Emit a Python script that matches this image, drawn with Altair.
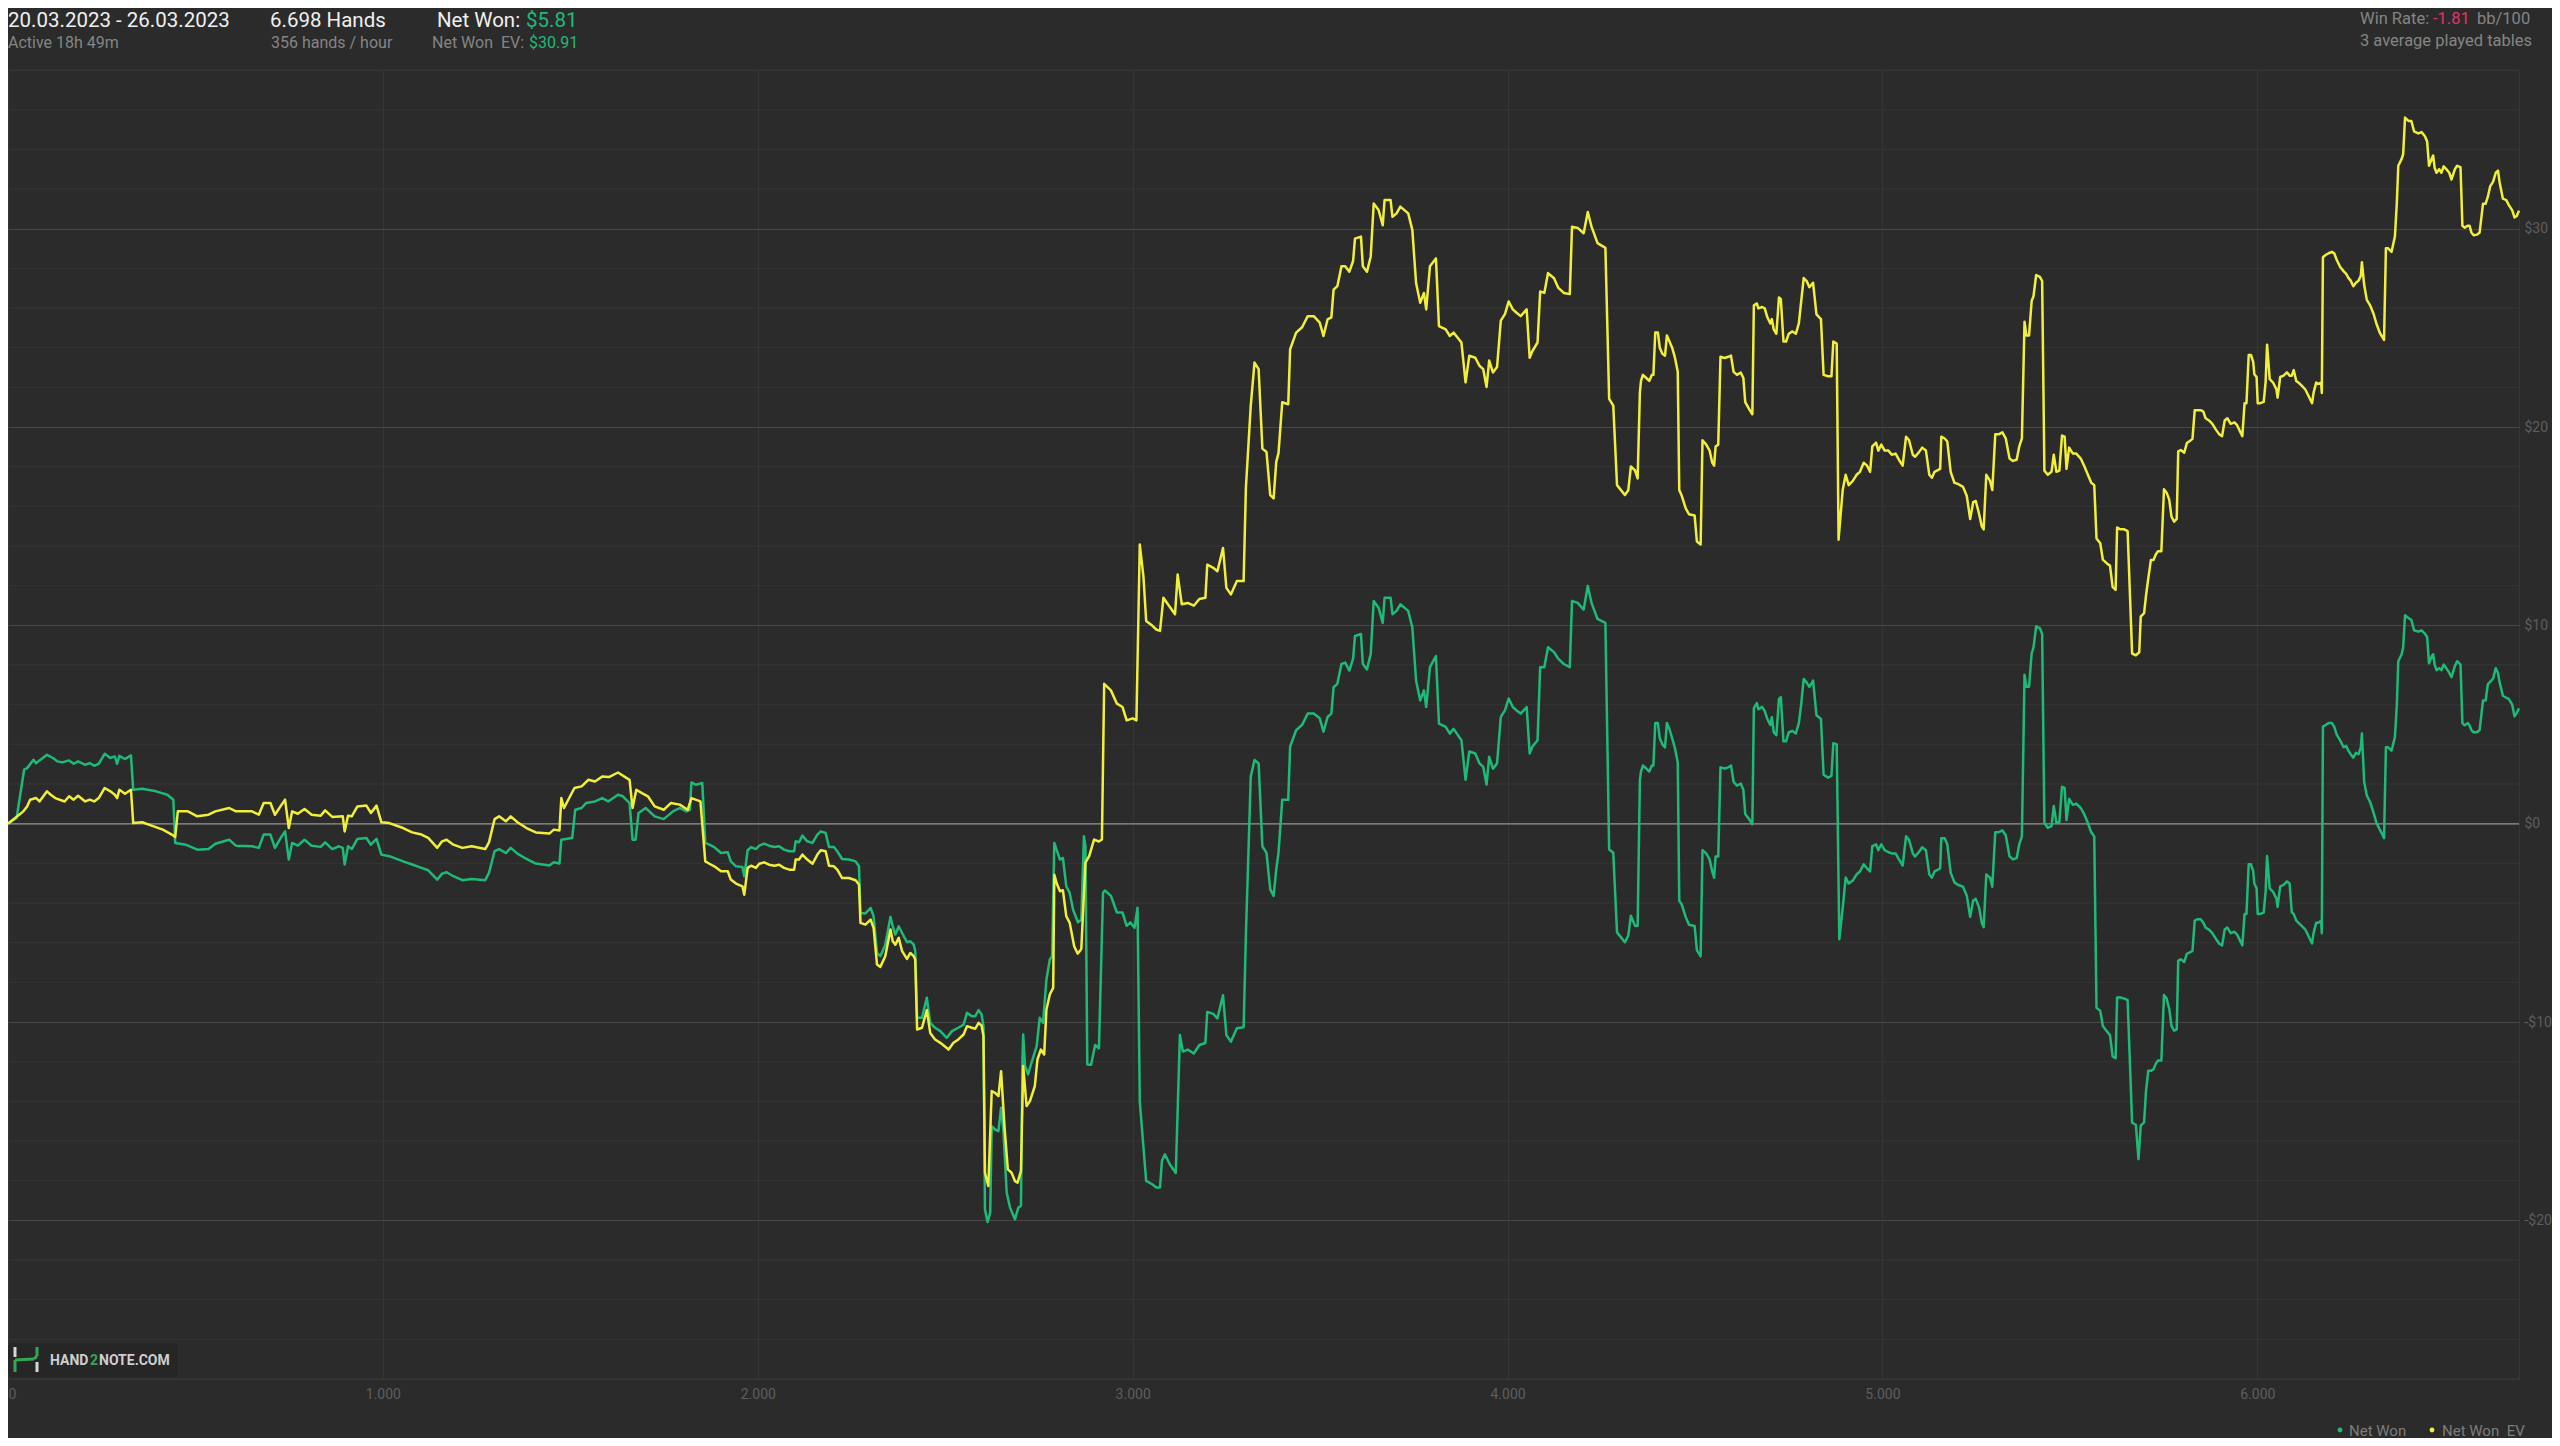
import altair as alt
import pandas as pd

# ---------------- data (hand number, cumulative $) ----------------
NET_WON = [
    (0, 0.0), (23, 0.29), (43, 2.72), (51, 2.80), (68, 3.22), (75, 3.05), (84, 3.19), (104, 3.47), (120, 3.31),
    (132, 3.14), (145, 3.09), (163, 3.19), (175, 3.02), (187, 3.14), (206, 2.97), (218, 3.05), (230, 2.92),
    (242, 3.02), (258, 3.52), (273, 3.31), (285, 3.39), (291, 3.02), (297, 3.42), (312, 3.26), (328, 3.44),
    (334, 1.71), (358, 1.76), (395, 1.63), (425, 1.46), (441, 1.21), (446, -0.97), (474, -1.06), (505, -1.31),
    (535, -1.28), (553, -1.01), (590, -0.81), (608, -1.11), (651, -1.14), (669, -1.22), (682, -0.55), (700, -0.55),
    (712, -1.22), (730, -0.64), (739, -0.39), (749, -1.81), (758, -0.97), (773, -1.11), (791, -0.81), (810, -1.11),
    (834, -1.17), (846, -0.94), (865, -1.28), (883, -1.14), (893, -1.22), (898, -2.06), (907, -1.14), (917, -1.28),
    (932, -0.77), (956, -0.72), (968, -1.06), (983, -0.77), (996, -1.56), (1017, -1.64), (1054, -1.90),
    (1078, -2.06), (1103, -2.23), (1121, -2.35), (1145, -2.82), (1158, -2.52), (1170, -2.45), (1188, -2.65),
    (1212, -2.85), (1237, -2.79), (1273, -2.85), (1283, -2.48), (1298, -1.39), (1310, -1.28), (1328, -1.48),
    (1341, -1.22), (1359, -1.51), (1383, -1.78), (1408, -2.01), (1444, -2.11), (1456, -1.95), (1471, -2.01),
    (1476, -0.81), (1505, -0.72), (1513, 0.70), (1530, 0.79), (1542, 1.04), (1566, 1.12), (1585, 1.29),
    (1601, 1.12), (1627, 1.46), (1640, 1.38), (1658, 1.04), (1666, -0.81), (1674, -0.81), (1682, 0.54),
    (1701, 0.79), (1725, 0.37), (1749, 0.23), (1774, 0.62), (1792, 0.79), (1810, 0.62), (1819, 0.70),
    (1823, 2.08), (1835, 1.96), (1852, 2.05), (1860, -0.97), (1871, -1.06), (1884, -1.18), (1902, -1.48),
    (1920, -1.44), (1928, -1.90), (1942, -2.15), (1959, -2.18), (1964, -2.65), (1973, -1.34), (1982, -1.18),
    (1995, -1.28), (2004, -1.11), (2017, -1.01), (2030, -1.11), (2044, -1.18), (2057, -1.14), (2070, -1.31),
    (2084, -1.39), (2097, -1.39), (2101, -0.89), (2110, -0.94), (2119, -0.60), (2132, -0.89), (2146, -0.97),
    (2159, -0.55), (2168, -0.39), (2181, -0.47), (2190, -1.18), (2203, -1.18), (2212, -1.39), (2225, -1.78),
    (2243, -1.81), (2261, -1.90), (2270, -2.15), (2274, -4.50), (2287, -4.53), (2301, -4.25), (2309, -4.67),
    (2318, -6.52), (2327, -6.68), (2340, -6.10), (2354, -4.70), (2360, -5.17), (2367, -5.59), (2376, -5.17),
    (2385, -5.51), (2398, -5.98), (2407, -5.93), (2416, -6.10), (2420, -6.43), (2425, -9.79), (2438, -9.79),
    (2451, -8.78), (2460, -10.04), (2473, -10.29), (2487, -10.46), (2504, -10.80), (2518, -10.46),
    (2535, -10.29), (2549, -10.13), (2558, -9.54), (2571, -9.71), (2580, -9.71), (2589, -9.40), (2597, -9.62),
    (2602, -10.21), (2606, -19.45), (2613, -20.08), (2620, -19.61), (2624, -15.25), (2633, -15.42),
    (2642, -15.50), (2649, -14.32), (2655, -15.42), (2664, -18.61), (2673, -19.36), (2686, -19.95),
    (2695, -19.36), (2702, -19.28), (2706, -11.89), (2708, -10.63), (2713, -12.22), (2721, -12.64),
    (2730, -12.06), (2744, -11.22), (2752, -9.79), (2761, -10.04), (2770, -7.86), (2779, -6.85), (2785, -6.68),
    (2791, -0.97), (2797, -1.31), (2806, -1.81), (2814, -1.73), (2823, -3.16), (2832, -3.49), (2841, -4.33),
    (2854, -4.97), (2863, -4.84), (2870, -0.64), (2874, -1.14), (2879, -12.14), (2882, -12.16), (2889, -12.16),
    (2900, -11.16), (2910, -11.33), (2921, -3.47), (2926, -3.37), (2942, -3.64), (2958, -4.48), (2973, -4.48),
    (2984, -5.15), (2994, -4.98), (3005, -5.25), (3013, -4.24), (3019, -14.00), (3026, -15.67), (3036, -18.01),
    (3052, -18.18), (3063, -18.34), (3073, -18.34), (3078, -17.01), (3086, -16.67), (3099, -17.17),
    (3115, -17.61), (3126, -10.66), (3134, -11.49), (3147, -11.39), (3163, -11.59), (3178, -11.16),
    (3194, -11.06), (3199, -9.49), (3215, -9.59), (3226, -9.82), (3241, -8.65), (3250, -10.66), (3262, -10.99),
    (3278, -10.32), (3296, -10.26), (3302, -5.65), (3315, 2.37), (3325, 3.21), (3336, 3.04), (3346, -1.14),
    (3357, -1.47), (3367, -3.31), (3376, -3.64), (3383, -2.31), (3389, -1.47), (3399, 1.20), (3415, 1.20),
    (3420, 3.88), (3436, 4.71), (3452, 4.98), (3467, 5.55), (3483, 5.55), (3499, 5.31), (3509, 4.64),
    (3520, 5.38), (3530, 5.55), (3536, 6.88), (3546, 7.05), (3557, 8.05), (3567, 8.12), (3578, 7.72),
    (3588, 8.32), (3593, 9.46), (3609, 9.56), (3614, 8.05), (3625, 7.78), (3635, 8.55), (3643, 11.23),
    (3656, 10.89), (3667, 10.12), (3672, 11.39), (3688, 11.39), (3693, 10.56), (3704, 10.73), (3714, 11.06),
    (3735, 10.73), (3746, 9.89), (3756, 7.22), (3767, 6.21), (3777, 6.72), (3783, 5.88), (3793, 7.89),
    (3809, 8.45), (3817, 5.05), (3835, 4.88), (3846, 4.54), (3856, 4.78), (3877, 4.21), (3888, 2.21),
    (3898, 3.64), (3914, 3.54), (3925, 3.04), (3935, 2.87), (3944, 1.97), (3951, 3.37), (3961, 2.77),
    (3972, 3.04), (3982, 5.38), (3993, 5.71), (4003, 6.31), (4014, 5.88), (4024, 5.71), (4035, 5.55),
    (4051, 5.88), (4059, 3.54), (4066, 3.88), (4080, 4.21), (4087, 7.89), (4098, 7.89), (4108, 8.89),
    (4124, 8.65), (4135, 8.32), (4150, 8.05), (4166, 7.89), (4172, 11.23), (4187, 11.13), (4203, 10.79),
    (4214, 11.99), (4224, 11.13), (4240, 10.32), (4261, 10.12), (4271, -1.30), (4282, -1.47), (4292, -5.48),
    (4313, -5.98), (4322, -5.65), (4329, -4.64), (4340, -5.15), (4347, -5.15), (4353, 2.21), (4356, 2.63),
    (4361, 2.93), (4370, 2.78), (4378, 2.63), (4385, 2.93), (4389, 2.93), (4394, 5.07), (4401, 5.07),
    (4406, 4.31), (4413, 4.00), (4420, 3.85), (4425, 5.07), (4432, 4.76), (4439, 4.31), (4446, 3.85),
    (4454, 3.08), (4458, -3.88), (4465, -4.09), (4475, -4.70), (4484, -5.10), (4499, -5.16), (4505, -6.38),
    (4515, -6.69), (4520, -1.34), (4530, -1.50), (4539, -1.80), (4546, -2.41), (4551, -2.72), (4555, -1.65),
    (4562, -1.65), (4568, 2.84), (4579, 2.78), (4589, 2.84), (4596, 2.93), (4603, 2.11), (4612, 1.92),
    (4622, 2.02), (4629, 1.71), (4634, 0.49), (4646, 0.18), (4653, -0.03), (4657, 5.83), (4665, 6.08),
    (4669, 5.77), (4679, 5.89), (4686, 5.68), (4693, 5.28), (4701, 4.98), (4705, 5.37), (4710, 4.61),
    (4717, 4.46), (4724, 6.29), (4729, 6.38), (4736, 4.15), (4743, 4.15), (4750, 4.61), (4760, 4.67),
    (4769, 4.55), (4777, 5.07), (4783, 5.98), (4790, 7.30), (4798, 7.11), (4805, 6.90), (4815, 7.21),
    (4824, 5.47), (4836, 5.28), (4843, 2.47), (4855, 2.32), (4864, 2.41), (4869, 4.06), (4878, 4.00),
    (4885, -5.83), (4894, -4.24), (4902, -2.72), (4910, -3.02), (4921, -2.87), (4931, -2.56), (4940, -2.41),
    (4950, -2.05), (4959, -2.26), (4967, -2.41), (4973, -1.13), (4983, -1.04), (4989, -1.34), (4997, -1.04),
    (5006, -1.34), (5016, -1.44), (5025, -1.50), (5035, -1.50), (5044, -1.80), (5054, -2.11), (5063, -0.64),
    (5071, -0.82), (5081, -1.50), (5087, -1.65), (5097, -1.44), (5106, -1.19), (5116, -1.34), (5125, -2.56),
    (5132, -2.72), (5139, -2.41), (5154, -2.26), (5157, -0.73), (5166, -0.73), (5173, -1.04), (5182, -2.47),
    (5192, -2.96), (5201, -3.08), (5215, -3.18), (5225, -3.63), (5234, -4.70), (5242, -3.88), (5249, -3.79),
    (5258, -4.24), (5265, -5.01), (5270, -5.22), (5277, -2.56), (5287, -2.72), (5293, -3.18), (5301, -0.43),
    (5310, -0.43), (5320, -0.34), (5329, -0.58), (5339, -1.65), (5348, -1.80), (5358, -1.74), (5365, -1.04),
    (5372, -0.64), (5379, 7.51), (5384, 6.90), (5391, 6.90), (5398, 8.58), (5403, 8.89), (5410, 9.95),
    (5420, 9.86), (5426, 9.56), (5432, 0.03), (5441, -0.21), (5451, -0.12), (5457, 0.89), (5464, 0.03),
    (5472, 0.09), (5479, 1.86), (5486, 1.80), (5491, 0.18), (5498, 1.25), (5508, 0.95), (5517, 1.01),
    (5529, 0.79), (5538, 0.49), (5548, 0.03), (5557, -0.43), (5565, -0.64), (5571, -9.28), (5581, -9.44),
    (5588, -10.20), (5600, -10.50), (5607, -10.66), (5614, -11.73), (5622, -11.82), (5626, -8.76),
    (5635, -8.76), (5645, -8.82), (5654, -8.89), (5666, -15.08), (5676, -15.18), (5683, -16.92),
    (5689, -15.23), (5698, -15.06), (5703, -13.50), (5709, -12.46), (5716, -12.46), (5723, -12.39),
    (5729, -12.11), (5735, -11.94), (5744, -11.94), (5751, -8.64), (5758, -8.81), (5765, -9.33), (5771, -10.20),
    (5778, -10.44), (5785, -10.37), (5789, -6.90), (5796, -6.84), (5805, -6.97), (5812, -6.56), (5820, -6.49),
    (5827, -6.42), (5833, -4.89), (5840, -4.82), (5849, -4.82), (5856, -5.00), (5862, -5.24), (5871, -5.34),
    (5880, -5.52), (5889, -5.79), (5898, -6.04), (5906, -6.14), (5913, -5.34), (5920, -5.24), (5929, -5.52),
    (5939, -5.45), (5946, -5.59), (5953, -5.86), (5960, -6.14), (5966, -4.55), (5971, -4.55), (5977, -2.05),
    (5983, -2.05), (5989, -2.39), (5992, -3.02), (5998, -3.26), (6001, -4.55), (6008, -4.55), (6017, -4.48),
    (6022, -3.44), (6026, -1.63), (6033, -3.26), (6042, -3.44), (6051, -3.78), (6054, -4.20), (6061, -3.16),
    (6070, -3.09), (6079, -2.91), (6086, -3.02), (6092, -4.48), (6097, -4.55), (6104, -4.89), (6110, -5.00),
    (6119, -5.17), (6128, -5.34), (6137, -5.69), (6146, -6.04), (6150, -5.52), (6157, -5.00), (6163, -5.00),
    (6170, -4.89), (6172, -5.52), (6175, 4.89), (6181, 4.96), (6190, 5.07), (6199, 5.07), (6205, 4.89),
    (6212, 4.48), (6221, 4.20), (6230, 3.85), (6237, 3.92), (6243, 3.68), (6249, 3.50), (6256, 3.33),
    (6263, 3.57), (6270, 3.50), (6276, 3.85), (6279, 4.55), (6285, 2.12), (6292, 1.42), (6301, 1.08),
    (6310, 0.56), (6318, 0.03), (6327, -0.31), (6338, -0.73), (6343, 3.85), (6349, 3.85), (6358, 3.68),
    (6367, 4.37), (6372, 5.93), (6376, 8.19), (6385, 8.54), (6389, 8.88), (6394, 10.51), (6403, 10.37),
    (6411, 10.27), (6418, 9.75), (6429, 9.68), (6438, 9.75), (6447, 9.58), (6453, 9.40), (6458, 8.08),
    (6465, 8.43), (6469, 8.54), (6473, 8.02), (6478, 7.74), (6485, 7.84), (6491, 7.74), (6497, 8.02),
    (6504, 7.84), (6512, 7.60), (6518, 7.39), (6527, 7.95), (6533, 8.19), (6542, 8.02), (6547, 5.07),
    (6553, 4.96), (6562, 5.07), (6566, 4.96), (6571, 4.72), (6577, 4.61), (6586, 4.61), (6593, 4.72),
    (6602, 6.21), (6609, 6.21), (6615, 7.04), (6621, 7.15), (6629, 7.32), (6636, 7.84), (6642, 7.60),
    (6646, 7.15), (6655, 6.45), (6664, 6.35), (6671, 6.28), (6680, 6.00), (6686, 5.41), (6692, 5.59),
    (6698, 5.81),
]

NET_WON_EV = [
    (0, 0.0), (41, 0.62), (51, 0.87), (59, 1.21), (75, 1.29), (84, 1.12), (104, 1.63), (114, 1.46), (126, 1.29),
    (151, 1.12), (163, 1.38), (175, 1.21), (187, 1.41), (206, 1.12), (218, 1.21), (230, 1.12), (242, 1.29),
    (258, 1.80), (273, 1.63), (285, 1.46), (291, 1.29), (297, 1.71), (312, 1.51), (328, 1.71), (334, 0.03),
    (358, 0.07), (383, -0.10), (413, -0.30), (437, -0.55), (446, -0.67), (453, 0.62), (480, 0.62), (505, 0.37),
    (535, 0.45), (553, 0.62), (590, 0.79), (608, 0.62), (651, 0.62), (669, 0.45), (682, 1.04), (700, 1.04),
    (712, 0.45), (730, 0.96), (739, 1.21), (749, -0.22), (758, 0.62), (773, 0.50), (791, 0.74), (810, 0.45),
    (834, 0.40), (846, 0.67), (865, 0.34), (893, 0.37), (898, -0.39), (907, 0.40), (917, 0.37), (932, 0.87),
    (956, 0.91), (968, 0.54), (983, 0.91), (996, 0.07), (1017, 0.03), (1054, -0.22), (1078, -0.44),
    (1103, -0.55), (1121, -0.72), (1145, -1.22), (1158, -0.89), (1170, -0.81), (1188, -1.06), (1212, -1.22),
    (1237, -1.14), (1273, -1.28), (1283, -0.94), (1298, 0.23), (1310, 0.37), (1328, 0.12), (1341, 0.37),
    (1359, 0.07), (1383, -0.22), (1408, -0.44), (1444, -0.50), (1456, -0.30), (1471, -0.34), (1476, 1.29),
    (1483, 0.79), (1511, 1.80), (1530, 1.88), (1548, 2.21), (1566, 2.13), (1585, 2.38), (1603, 2.35),
    (1627, 2.58), (1658, 2.21), (1666, 0.79), (1676, 1.71), (1691, 1.54), (1707, 1.38), (1725, 0.87),
    (1749, 0.70), (1768, 1.04), (1792, 0.96), (1813, 0.70), (1823, 1.29), (1847, 1.12), (1860, -1.90),
    (1871, -2.02), (1884, -2.15), (1902, -2.40), (1920, -2.40), (1928, -2.82), (1942, -3.02), (1959, -3.16),
    (1964, -3.58), (1973, -2.23), (1982, -2.12), (1995, -2.23), (2004, -2.02), (2017, -1.95), (2030, -2.07),
    (2044, -2.12), (2057, -2.07), (2070, -2.23), (2084, -2.32), (2097, -2.32), (2101, -1.81), (2110, -1.81),
    (2119, -1.56), (2132, -1.81), (2146, -2.02), (2159, -1.56), (2168, -1.34), (2181, -1.39), (2190, -2.12),
    (2203, -2.15), (2212, -2.32), (2225, -2.74), (2243, -2.74), (2261, -2.85), (2270, -3.07), (2274, -5.00),
    (2287, -5.09), (2301, -4.84), (2309, -5.26), (2318, -7.10), (2327, -7.22), (2340, -6.68), (2354, -5.34),
    (2360, -5.93), (2367, -6.10), (2376, -5.76), (2385, -6.43), (2398, -6.82), (2407, -6.52), (2416, -6.68),
    (2420, -6.85), (2425, -10.38), (2438, -10.29), (2451, -9.40), (2460, -10.55), (2473, -10.88),
    (2487, -11.05), (2509, -11.39), (2522, -11.05), (2535, -10.88), (2549, -10.63), (2558, -10.21),
    (2571, -10.29), (2580, -10.34), (2589, -10.04), (2597, -10.18), (2602, -10.71), (2606, -17.60),
    (2615, -18.27), (2624, -13.48), (2633, -13.57), (2642, -13.74), (2649, -12.48), (2658, -15.25),
    (2667, -17.43), (2677, -17.60), (2686, -18.02), (2693, -18.10), (2702, -17.51), (2708, -12.22),
    (2717, -14.24), (2726, -13.99), (2739, -13.23), (2746, -11.89), (2755, -11.39), (2764, -11.64),
    (2770, -9.37), (2779, -8.61), (2788, -8.28), (2791, -2.57), (2797, -2.99), (2806, -3.41), (2814, -3.36),
    (2823, -4.67), (2832, -5.00), (2844, -6.18), (2853, -6.55), (2859, -6.43), (2863, -6.31), (2874, -1.97),
    (2884, -1.64), (2897, -0.80), (2910, -0.90), (2918, -0.80), (2924, 7.05), (2942, 6.72), (2958, 6.05),
    (2973, 5.88), (2984, 5.21), (3000, 5.31), (3010, 5.21), (3019, 14.07), (3029, 12.40), (3036, 10.22),
    (3052, 9.99), (3063, 9.79), (3073, 9.72), (3082, 11.39), (3094, 11.06), (3113, 10.56), (3120, 12.56),
    (3131, 11.06), (3147, 11.13), (3163, 10.99), (3178, 11.33), (3194, 11.39), (3199, 13.06), (3215, 12.90),
    (3226, 12.73), (3241, 13.90), (3250, 11.89), (3262, 11.56), (3278, 12.23), (3296, 12.23), (3302, 16.91),
    (3315, 21.08), (3325, 23.25), (3336, 22.92), (3346, 18.91), (3357, 18.74), (3367, 16.57), (3376, 16.40),
    (3383, 18.24), (3389, 18.68), (3399, 21.25), (3415, 21.15), (3420, 23.92), (3436, 24.76), (3452, 25.03),
    (3467, 25.59), (3483, 25.59), (3499, 25.26), (3509, 24.59), (3520, 25.43), (3530, 25.53), (3536, 26.93),
    (3546, 27.10), (3557, 28.10), (3567, 28.10), (3578, 27.83), (3588, 28.37), (3593, 29.50), (3609, 29.60),
    (3614, 28.10), (3625, 27.83), (3635, 28.60), (3643, 31.27), (3656, 30.94), (3667, 30.17), (3672, 31.44),
    (3688, 31.44), (3693, 30.60), (3704, 30.77), (3714, 31.11), (3735, 30.77), (3746, 29.94), (3756, 27.26),
    (3767, 26.26), (3777, 26.76), (3783, 25.93), (3793, 28.10), (3809, 28.50), (3817, 25.09), (3835, 24.92),
    (3846, 24.59), (3856, 24.76), (3877, 24.26), (3888, 22.25), (3898, 23.59), (3914, 23.49), (3925, 23.09),
    (3935, 22.92), (3944, 22.02), (3951, 23.35), (3961, 22.75), (3972, 23.02), (3982, 25.36), (3993, 25.69),
    (4003, 26.33), (4014, 25.93), (4024, 25.76), (4035, 25.59), (4051, 25.93), (4059, 23.49), (4066, 23.82),
    (4080, 24.26), (4087, 26.83), (4098, 26.76), (4108, 27.76), (4124, 27.50), (4135, 27.03), (4150, 26.76),
    (4166, 26.70), (4172, 30.10), (4187, 30.04), (4203, 29.77), (4214, 30.84), (4224, 30.10), (4240, 29.27),
    (4261, 29.03), (4271, 21.42), (4282, 21.08), (4292, 17.07), (4313, 16.57), (4322, 16.81), (4329, 18.01),
    (4340, 17.81), (4347, 17.41), (4353, 21.75), (4356, 22.32), (4361, 22.63), (4370, 22.47), (4378, 22.32),
    (4385, 22.63), (4389, 22.63), (4394, 24.76), (4401, 24.76), (4406, 24.00), (4413, 23.69), (4420, 23.60),
    (4425, 24.61), (4432, 24.31), (4439, 24.00), (4446, 23.54), (4454, 22.78), (4458, 16.82), (4465, 16.52),
    (4475, 15.91), (4484, 15.60), (4499, 15.54), (4505, 14.23), (4515, 14.08), (4520, 19.33), (4530, 19.11),
    (4539, 18.81), (4546, 18.20), (4551, 18.05), (4555, 19.02), (4562, 19.11), (4568, 23.54), (4579, 23.48),
    (4589, 23.54), (4596, 23.60), (4603, 22.78), (4612, 22.63), (4622, 22.75), (4629, 22.47), (4634, 21.25),
    (4646, 20.85), (4653, 20.64), (4657, 26.14), (4665, 26.23), (4669, 25.98), (4679, 26.05), (4686, 25.98),
    (4693, 25.53), (4701, 25.22), (4705, 25.44), (4710, 24.92), (4717, 24.70), (4724, 26.53), (4729, 26.44),
    (4736, 24.31), (4743, 24.31), (4750, 24.70), (4760, 24.82), (4769, 24.70), (4777, 25.22), (4783, 26.29),
    (4790, 27.51), (4798, 27.36), (4805, 27.05), (4815, 27.27), (4824, 25.68), (4836, 25.44), (4843, 22.63),
    (4855, 22.56), (4864, 22.56), (4869, 24.31), (4878, 24.21), (4883, 14.32), (4894, 16.82), (4902, 17.59),
    (4910, 17.07), (4921, 17.28), (4931, 17.59), (4940, 17.74), (4950, 18.20), (4959, 18.05), (4967, 17.74),
    (4973, 19.02), (4983, 19.21), (4989, 18.81), (4997, 19.11), (5006, 18.81), (5016, 18.81), (5025, 18.60),
    (5035, 18.66), (5044, 18.35), (5054, 18.05), (5063, 19.51), (5071, 19.33), (5081, 18.60), (5087, 18.50),
    (5097, 18.72), (5106, 18.96), (5116, 18.81), (5125, 17.59), (5132, 17.44), (5139, 17.74), (5154, 17.89),
    (5157, 19.51), (5166, 19.42), (5173, 19.27), (5182, 17.74), (5192, 17.19), (5201, 17.13), (5215, 16.98),
    (5225, 16.52), (5234, 15.36), (5242, 16.21), (5249, 16.27), (5258, 15.60), (5265, 14.99), (5270, 14.84),
    (5277, 17.59), (5287, 17.28), (5293, 16.82), (5301, 19.63), (5310, 19.63), (5320, 19.73), (5329, 19.42),
    (5339, 18.41), (5348, 18.29), (5358, 18.35), (5365, 19.02), (5372, 19.42), (5379, 25.31), (5384, 24.61),
    (5391, 24.61), (5398, 26.35), (5403, 26.60), (5410, 27.66), (5420, 27.57), (5426, 27.36), (5432, 17.80),
    (5441, 17.59), (5451, 17.74), (5457, 18.60), (5464, 17.74), (5472, 17.80), (5479, 19.57), (5486, 19.51),
    (5491, 17.89), (5498, 18.96), (5508, 18.66), (5517, 18.66), (5529, 18.41), (5538, 18.05), (5548, 17.59),
    (5557, 17.19), (5565, 17.07), (5571, 14.38), (5581, 14.14), (5588, 13.31), (5600, 13.10), (5607, 13.01),
    (5614, 11.94), (5622, 11.79), (5626, 14.93), (5635, 14.84), (5645, 14.84), (5654, 14.75), (5666, 8.58),
    (5676, 8.49), (5685, 8.64), (5689, 10.44), (5698, 10.62), (5703, 11.49), (5709, 12.35), (5716, 13.29),
    (5723, 13.29), (5729, 13.57), (5735, 13.74), (5744, 13.74), (5751, 16.86), (5758, 16.69), (5765, 16.34),
    (5771, 15.48), (5778, 15.23), (5785, 15.37), (5789, 18.77), (5796, 18.84), (5805, 18.70), (5812, 19.19),
    (5820, 19.29), (5827, 19.40), (5833, 20.85), (5840, 20.85), (5849, 20.85), (5856, 20.78), (5862, 20.44),
    (5871, 20.33), (5880, 20.16), (5889, 19.88), (5898, 19.64), (5906, 19.54), (5913, 20.33), (5920, 20.44),
    (5929, 20.16), (5939, 20.23), (5946, 20.09), (5953, 19.81), (5960, 19.54), (5966, 21.20), (5971, 21.20),
    (5977, 23.63), (5983, 23.63), (5989, 23.28), (5992, 22.66), (5998, 22.52), (6001, 21.20), (6008, 21.20),
    (6017, 21.27), (6022, 22.24), (6026, 24.15), (6033, 22.41), (6042, 22.24), (6051, 21.89), (6054, 21.48),
    (6061, 22.52), (6070, 22.59), (6079, 22.76), (6086, 22.59), (6092, 22.59), (6097, 22.87), (6104, 22.31),
    (6110, 22.24), (6119, 22.07), (6128, 21.89), (6137, 21.55), (6146, 21.20), (6150, 21.72), (6157, 22.24),
    (6163, 22.17), (6170, 22.24), (6172, 21.72), (6175, 28.56), (6181, 28.66), (6190, 28.76), (6199, 28.83),
    (6205, 28.76), (6212, 28.42), (6221, 28.07), (6230, 27.86), (6237, 27.72), (6243, 27.52), (6249, 27.38),
    (6256, 27.10), (6263, 27.27), (6270, 27.38), (6276, 27.62), (6279, 28.31), (6285, 27.17), (6292, 26.41),
    (6301, 26.13), (6310, 25.71), (6318, 25.19), (6327, 24.74), (6338, 24.39), (6343, 29.01), (6349, 29.01),
    (6358, 28.83), (6367, 29.60), (6372, 31.26), (6376, 33.17), (6385, 33.52), (6389, 33.76), (6394, 35.60),
    (6403, 35.43), (6411, 35.43), (6418, 34.91), (6429, 34.80), (6438, 34.87), (6447, 34.66), (6453, 34.39),
    (6458, 33.17), (6465, 33.52), (6469, 33.69), (6473, 33.07), (6478, 32.82), (6485, 33.00), (6491, 32.82),
    (6497, 33.14), (6504, 33.00), (6512, 32.82), (6518, 32.48), (6527, 33.00), (6533, 33.17), (6542, 33.10),
    (6547, 30.15), (6553, 30.05), (6562, 30.15), (6566, 30.15), (6571, 29.81), (6577, 29.67), (6586, 29.70),
    (6593, 29.81), (6602, 31.26), (6609, 31.26), (6615, 31.61), (6621, 32.13), (6629, 32.37), (6636, 32.82),
    (6642, 32.93), (6646, 32.37), (6655, 31.51), (6664, 31.44), (6671, 31.19), (6680, 30.92), (6686, 30.57),
    (6692, 30.64), (6698, 30.91),
]

SERIES = ["Net Won", "Net Won\u00a0 EV"]
X_TICKS = [0, 1000, 2000, 3000, 4000, 5000, 6000]
Y_TICKS = [-20, -10, 0, 10, 20, 30]
Y_MINOR = [-28, -26, -24, -22, -18, -16, -14, -12, -8, -6, -4, -2,
           2, 4, 6, 8, 12, 14, 16, 18, 22, 24, 26, 28, 32, 34, 36, 38]
X_DOMAIN = [0, 6698]
Y_DOMAIN = [-28, 38]

# header texts
PERIOD = "20.03.2023 - 26.03.2023"
ACTIVE = "Active 18h 49m"
HANDS = "6.698 Hands"
HANDS_RATE = "356 hands / hour"
NET_WON_LABEL = "Net Won:"
NET_WON_VALUE = "$5.81"
EV_LABEL = "Net Won\u00a0 EV:"
EV_VALUE = "$30.91"
WIN_RATE_LABEL = "Win Rate:"
WIN_RATE_VALUE = "-1.81"
WIN_RATE_UNIT = "bb/100"
TABLES = "3 average played tables"
LOGO_PARTS = ["HAND", "2", "NOTE.COM"]

# ---------------- styling ----------------
W, H = 2511, 1309
BG = "#2b2b2b"
GRID = "#363636"
GRID_MAJOR = "#474747"
ZERO = "#7a7a7a"
GREEN = "#1fba78"
YELLOW = "#f2ef3c"
PINK = "#e0336e"
WHITE = "#f0f0f0"
GRAY = "#858585"
AXIS_GRAY = "#5e5e5e"
FONT = "Roboto"

df = pd.concat([
    pd.DataFrame(NET_WON, columns=["hand", "value"]).assign(series=SERIES[0]),
    pd.DataFrame(NET_WON_EV, columns=["hand", "value"]).assign(series=SERIES[1]),
], ignore_index=True)

y_scale = alt.Scale(domain=Y_DOMAIN, nice=False, zero=False)
y_axis = alt.Axis(
    orient="right", values=Y_TICKS, title=None, ticks=False, domain=False, grid=True,
    gridColor=GRID_MAJOR, labelOverlap=False,
    labelExpr="datum.value < 0 ? '-$' + abs(datum.value) : '$' + datum.value",
    labelColor=AXIS_GRAY, labelFontSize=14, labelPadding=5, labelFont=FONT,
    labelAlign="left", labelBaseline="middle",
)
x_enc = alt.X(
    "hand:Q",
    scale=alt.Scale(domain=X_DOMAIN, nice=False, zero=False),
    axis=alt.Axis(
        values=X_TICKS, title=None, ticks=False, domain=False, grid=True, gridColor=GRID,
        labelExpr="datum.value == 0 ? '0' : format(datum.value / 1000, '.3f')",
        labelColor=AXIS_GRAY, labelFontSize=14, labelPadding=8, labelFont=FONT, labelFlush=True,
    ),
)

one = alt.InlineData(values=[{}])

minor_grid = alt.Chart(pd.DataFrame({"value": Y_MINOR})).mark_rule(color=GRID, strokeWidth=1).encode(
    y=alt.Y("value:Q", scale=y_scale, axis=y_axis))

zero_line = alt.Chart(pd.DataFrame({"value": [0]})).mark_rule(color=ZERO, strokeWidth=1.5).encode(
    y=alt.Y("value:Q", scale=y_scale, axis=y_axis))

lines = alt.Chart(df).mark_line(strokeWidth=2.5, strokeJoin="round").encode(
    x=x_enc,
    y=alt.Y("value:Q", scale=y_scale, axis=y_axis),
    color=alt.Color("series:N", scale=alt.Scale(domain=SERIES, range=[GREEN, YELLOW]), legend=None),
)


def label(text, x, y, size, color, weight="normal", font=FONT):
    return alt.Chart(one).mark_text(
        text=text, align="left", baseline="alphabetic", fontSize=size, color=color,
        font=font, fontWeight=weight,
    ).encode(x=alt.value(x), y=alt.value(y))


def dot(x, y, color):
    return alt.Chart(one).mark_circle(size=24, color=color, opacity=1).encode(x=alt.value(x), y=alt.value(y))


def seg(x1, y1, x2, y2, color):
    return alt.Chart(one).mark_rule(color=color, strokeWidth=3).encode(
        x=alt.value(x1), y=alt.value(y1), x2=alt.value(x2), y2=alt.value(y2))


header = [
    label(PERIOD, 0, -43, 20.5, WHITE),
    label(ACTIVE, 0, -22, 16, GRAY),
    label(HANDS, 262, -43, 20.5, WHITE),
    label(HANDS_RATE, 263, -22, 16, GRAY),
    label(NET_WON_LABEL, 429, -43, 20.5, WHITE),
    label(NET_WON_VALUE, 518, -43, 20.5, GREEN),
    label(EV_LABEL, 424, -22, 16, GRAY),
    label(EV_VALUE, 521, -22, 16, GREEN),
    label(WIN_RATE_LABEL, 2352, -46, 16.5, GRAY),
    label(WIN_RATE_VALUE, 2425, -46, 16.5, PINK),
    label(WIN_RATE_UNIT, 2469, -46, 16.5, GRAY),
    label(TABLES, 2352, -24.5, 16.5, GRAY),
]

legend = [
    dot(2332, 1360, GREEN),
    label(SERIES[0], 2341, 1365.5, 15, "#7c7c7c"),
    dot(2424, 1360, YELLOW),
    label(SERIES[1], 2434, 1365.5, 15, "#7c7c7c"),
]

LOGO_GREEN = "#33a853"
logo = [
    alt.Chart(one).mark_rect(color="#262626", cornerRadius=4).encode(
        x=alt.value(0), x2=alt.value(170), y=alt.value(1273), y2=alt.value(1307)),
    seg(7, 1277, 7, 1287, "#d6d6d6"),
    seg(29, 1292, 29, 1302, "#d6d6d6"),
    seg(7, 1302, 7, 1290, LOGO_GREEN),
    seg(7, 1290, 26, 1289, LOGO_GREEN),
    seg(26, 1289, 29, 1286, LOGO_GREEN),
    seg(29, 1286, 29, 1277, LOGO_GREEN),
    label(LOGO_PARTS[0], 42, 1295, 14, "#cfcfcf", weight="bold"),
    label(LOGO_PARTS[1], 82, 1295, 14, LOGO_GREEN, weight="bold"),
    label(LOGO_PARTS[2], 91, 1295, 14, "#cfcfcf", weight="bold"),
]

chart = alt.layer(minor_grid, zero_line, lines, *logo, *header, *legend).properties(
    width=W,
    height=H,
    background=BG,
    padding={"left": 0, "top": 62, "right": 33, "bottom": 59},
    autosize=alt.AutoSizeParams(type="none"),
).configure(font=FONT).configure_view(fill=BG, stroke=GRID, strokeWidth=1)

chart.save("out.html", embed_options={"renderer": "svg", "actions": False})
